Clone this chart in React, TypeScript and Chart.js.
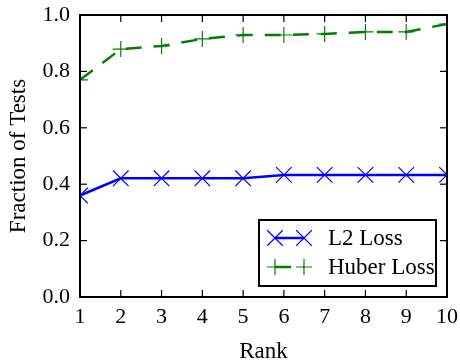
import React, { useEffect, useRef } from 'react';
import { Chart, registerables } from 'chart.js';

Chart.register(...registerables);

const ranks = [1, 2, 3, 4, 5, 6, 7, 8, 9, 10];
const l2Loss = [0.36, 0.421, 0.421, 0.421, 0.421, 0.433, 0.433, 0.433, 0.433, 0.433];
const huberLoss = [0.77, 0.879, 0.89, 0.915, 0.929, 0.929, 0.933, 0.94, 0.94, 0.968];
const yTicks = [0, 0.2, 0.4, 0.6, 0.8, 1.0];
const seriesNames = ['L2 Loss', 'Huber Loss'];
const seriesColors = ['#0000ff', '#008000'];
const xTitle = 'Rank';
const yTitle = 'Fraction of Tests';

const FONT = "'Liberation Serif', 'Times New Roman', serif";

function drawMarker(ctx: CanvasRenderingContext2D, kind: string, x: number, y: number, r: number) {
  ctx.beginPath();
  if (kind === 'crossRot') {
    const d = r * Math.SQRT1_2;
    ctx.moveTo(x - d, y - d);
    ctx.lineTo(x + d, y + d);
    ctx.moveTo(x - d, y + d);
    ctx.lineTo(x + d, y - d);
  } else {
    ctx.moveTo(x - r, y);
    ctx.lineTo(x + r, y);
    ctx.moveTo(x, y - r);
    ctx.lineTo(x, y + r);
  }
  ctx.stroke();
}

const framePlugin = {
  id: 'frameTicks',
  afterDatasetsDraw(chart: any) {
    const { ctx, chartArea: a, scales } = chart;
    ctx.save();
    ctx.strokeStyle = '#000';
    ctx.lineWidth = 1.2;
    const tl = 7;
    const seg = (x1: number, y1: number, x2: number, y2: number) => {
      ctx.beginPath();
      ctx.moveTo(x1, y1);
      ctx.lineTo(x2, y2);
      ctx.stroke();
    };
    ranks.forEach((r) => {
      const x = scales.x.getPixelForValue(r);
      seg(x, a.bottom, x, a.bottom - tl);
      seg(x, a.top, x, a.top + tl);
    });
    yTicks.forEach((v) => {
      const y = scales.y.getPixelForValue(v);
      seg(a.left, y, a.left + tl, y);
      seg(a.right, y, a.right - tl, y);
    });
    ctx.lineWidth = 2;
    ctx.strokeRect(a.left, a.top, a.right - a.left, a.bottom - a.top);
    ctx.restore();
  },
};

const legendPlugin = {
  id: 'boxLegend',
  afterDraw(chart: any) {
    const { ctx, chartArea: a } = chart;
    const w = 177;
    const h = 66;
    const x0 = a.right - 11 - w;
    const y0 = a.bottom - 11 - h;
    ctx.save();
    ctx.fillStyle = '#fff';
    ctx.fillRect(x0, y0, w, h);
    ctx.lineWidth = 2;
    ctx.strokeStyle = '#000';
    ctx.strokeRect(x0, y0, w, h);
    const rows = [y0 + 18, y0 + 47];
    const styles = ['crossRot', 'cross'];
    chart.data.datasets.forEach((ds: any, i: number) => {
      const y = rows[i];
      const lx1 = x0 + 16;
      const lx2 = x0 + 45;
      ctx.strokeStyle = ds.borderColor;
      ctx.lineWidth = ds.borderWidth;
      ctx.setLineDash(ds.borderDash || []);
      ctx.beginPath();
      ctx.moveTo(lx1, y);
      ctx.lineTo(lx2, y);
      ctx.stroke();
      ctx.setLineDash([]);
      ctx.lineWidth = ds.pointBorderWidth;
      drawMarker(ctx, styles[i], lx1, y, ds.pointRadius);
      drawMarker(ctx, styles[i], lx2, y, ds.pointRadius);
      ctx.fillStyle = '#000';
      ctx.font = `23px ${FONT}`;
      ctx.textBaseline = 'middle';
      ctx.textAlign = 'left';
      ctx.fillText(ds.label, x0 + 69, y + 1);
    });
    ctx.restore();
  },
};

export default function App() {
  const ref = useRef<HTMLCanvasElement | null>(null);
  useEffect(() => {
    if (!ref.current) return;
    const chart = new Chart(ref.current, {
      type: 'line',
      data: {
        datasets: [
          {
            label: seriesNames[0],
            data: ranks.map((r, i) => ({ x: r, y: l2Loss[i] })),
            borderColor: seriesColors[0],
            backgroundColor: seriesColors[0],
            borderWidth: 2.5,
            pointStyle: 'crossRot',
            pointRadius: 11,
            pointBorderWidth: 1.2,
            pointBorderColor: seriesColors[0],
            tension: 0,
            clip: 0,
          },
          {
            label: seriesNames[1],
            data: ranks.map((r, i) => ({ x: r, y: huberLoss[i] })),
            borderColor: seriesColors[1],
            backgroundColor: seriesColors[1],
            borderWidth: 2.5,
            borderDash: [16, 12],
            pointStyle: 'cross',
            pointRadius: 8,
            pointBorderWidth: 1.2,
            pointBorderColor: seriesColors[1],
            tension: 0,
            clip: 0,
          },
        ],
      },
      options: {
        animation: false,
        responsive: false,
        events: [],
        layout: { padding: { top: 15, right: 13, left: 0, bottom: 0 } },
        plugins: {
          legend: { display: false },
          tooltip: { enabled: false },
        },
        scales: {
          x: {
            type: 'linear',
            min: 1,
            max: 10,
            grid: { display: false, drawTicks: false },
            border: { display: false },
            ticks: {
              stepSize: 1,
              padding: 7,
              color: '#000',
              font: { family: FONT, size: 22 },
              maxRotation: 0,
              autoSkip: false,
            },
            title: {
              display: true,
              text: xTitle,
              color: '#000',
              font: { family: FONT, size: 23, lineHeight: 0.8 },
              padding: { top: 0, bottom: 0 },
            },
            afterFit: (s: any) => {
              s.height = 64;
              s.paddingLeft = 0;
              s.paddingRight = 0;
            },
          },
          y: {
            min: 0,
            max: 1,
            grid: { display: false, drawTicks: false },
            border: { display: false },
            ticks: {
              stepSize: 0.2,
              padding: 10,
              color: '#000',
              font: { family: FONT, size: 22 },
              callback: (v: any) => Number(v).toFixed(1),
            },
            title: {
              display: true,
              text: yTitle,
              color: '#000',
              font: { family: FONT, size: 23, lineHeight: 1 },
              padding: { top: 7, bottom: 0 },
            },
            afterFit: (s: any) => {
              s.width = 80;
              s.paddingTop = 0;
              s.paddingBottom = 0;
            },
          },
        },
      },
      plugins: [framePlugin, legendPlugin],
    } as any);
    return () => chart.destroy();
  }, []);
  return (
    <div style={{ position: 'fixed', left: 0, top: 0, width: 460, height: 361, background: '#fff' }}>
      <canvas ref={ref} width={460} height={361} style={{ display: 'block' }} />
    </div>
  );
}
